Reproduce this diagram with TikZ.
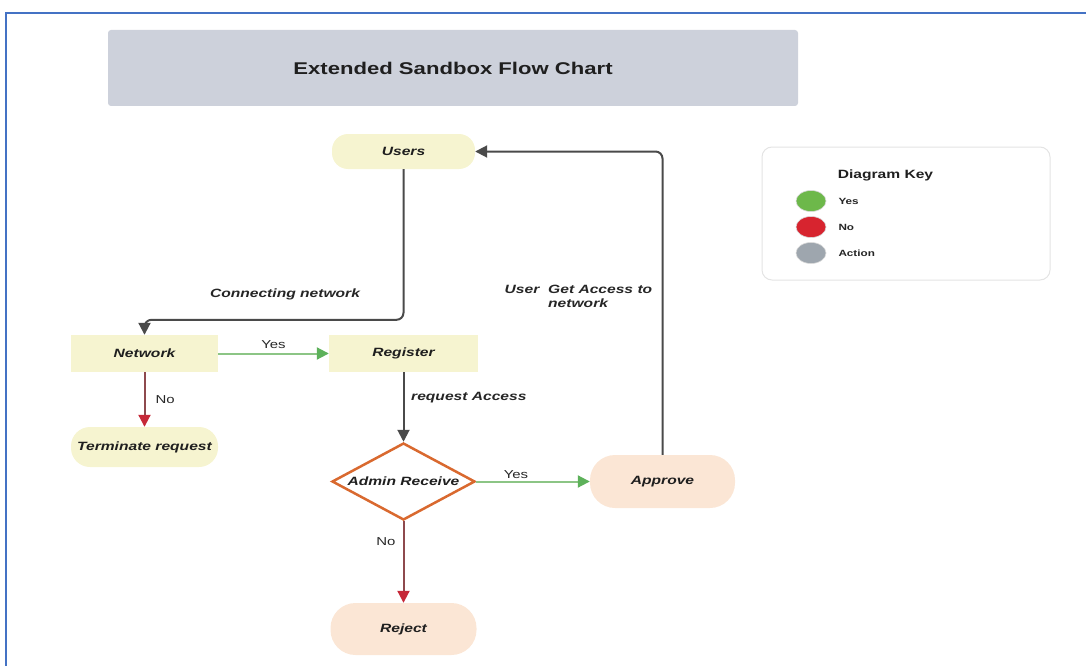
\documentclass[tikz,border=0pt]{standalone}
\usepackage{fontspec}
\setmainfont{Liberation Sans}[FakeStretch=1.3]
\usetikzlibrary{arrows.meta, shapes.geometric, positioning, calc}

\definecolor{frameblue}{HTML}{4472C4}
\definecolor{titlegray}{HTML}{CDD1DB}
\definecolor{paleyellow}{HTML}{F6F4D0}
\definecolor{peach}{HTML}{FBE6D5}
\definecolor{diamondorange}{HTML}{D9692F}
\definecolor{linegray}{HTML}{4A4A4A}
\definecolor{yesline}{HTML}{8CC585}
\definecolor{yeshead}{HTML}{5DB15A}
\definecolor{noline}{HTML}{8E4A4E}
\definecolor{nohead}{HTML}{C62838}
\definecolor{keygreen}{HTML}{6DB84A}
\definecolor{keyred}{HTML}{D7242F}
\definecolor{keygray}{HTML}{9EA6AE}
\definecolor{keyborder}{HTML}{E4E4E4}

\tikzset{
  chartfont/.style={font=\bfseries\itshape\fontsize{12}{14}\selectfont, text=black!88},
  box/.style={chartfont, fill=paleyellow, inner sep=0pt},
  pill/.style={box, rounded corners=16pt},
  decision/.style={chartfont, diamond, aspect=1.86, draw=diamondorange, line width=2.5pt, fill=white, inner sep=0pt},
  flowlabel/.style={chartfont, text=black!85, inner sep=0pt},
  answer/.style={font=\fontsize{11.5}{13}\selectfont, text=black!85, inner sep=2pt},
  flow/.style={draw=linegray, line width=2pt, -{Triangle[length=12pt, width=12pt]}},
  yesflow/.style={draw=yesline, line width=2pt, -{Triangle[length=12pt, width=12pt, color=yeshead]}},
  noflow/.style={draw=noline, line width=2pt, -{Triangle[length=12pt, width=12pt, color=nohead]}},
  keydot/.style={ellipse, minimum width=30pt, minimum height=21pt, inner sep=0pt, draw=black!15, line width=0.6pt},
  keytext/.style={font=\bfseries\fontsize{9}{11}\selectfont, text=black!85, inner sep=1pt}
}

\begin{document}
\begin{tikzpicture}[x=1pt, y=-1pt]
  \useasboundingbox (0,0) rectangle (1086,666);
  \draw[frameblue, line width=2pt] (6,666) -- (6,13) -- (1086,13);

  % title
  \node[fill=titlegray, rounded corners=3pt, minimum width=690pt, minimum height=76pt,
        font=\bfseries\fontsize{17}{20}\selectfont, text=black!88] (title) at (453,68) {Extended Sandbox Flow Chart};

  % flow chart nodes
  \node[pill, minimum width=143pt, minimum height=35pt] (users) at (403.5,151.5) {Users};
  \node[box, minimum width=147pt, minimum height=37pt] (network) at (144.5,353.5) {Network};
  \node[box, minimum width=149pt, minimum height=37pt] (register) at (403.5,353.5) {Register};
  \node[pill, minimum width=147pt, minimum height=40pt, rounded corners=19pt] (terminate) at (144.5,447) {Terminate request};
  \node[decision, minimum width=143pt, minimum height=77pt] (admin) at (403.5,481.5) {Admin Receive};
  \node[pill, fill=peach, minimum width=145pt, minimum height=53pt, rounded corners=25pt] (approve) at (662.5,481.5) {Approve};
  \node[pill, fill=peach, minimum width=146pt, minimum height=52pt, rounded corners=25pt] (reject) at (403.5,629) {Reject};

  % connectors
  \draw[flow, rounded corners=7pt] (users.south) |- ($(network.north)+(0,-15)$) -- (network.north);
  \draw[yesflow] (network.east) -- node[answer, above=2pt, midway] (yesreg) {Yes} (register.west);
  \draw[noflow] (network.south) -- node[answer, right=8pt, midway] (noterm) {No} (terminate.north);
  \draw[flow] (register.south) -- (admin.north);
  \draw[yesflow] (admin.east) -- node[answer, above=0pt, pos=0.35] (yesapp) {Yes} (approve.west);
  \draw[noflow] (admin.south) -- node[answer, left=5pt, pos=0.25] (norej) {No} (reject.north);
  \draw[flow, rounded corners=7pt] (approve.north) |- (users.east);

  % connector texts
  \node[flowlabel] (connlab) at (285,294) {Connecting network};
  \node[flowlabel, anchor=west] (reqlab) at (411,398) {request Access};
  \node[flowlabel] (userlab) at (522,289) {User};
  \node[flowlabel, anchor=west, align=left] (accesslab) at (548,296) {Get Access to\\network};

  % diagram key
  \node[draw=keyborder, line width=1pt, fill=white, rounded corners=10pt,
        minimum width=288pt, minimum height=133pt] (key) at (906,213.5) {};
  \node[font=\bfseries\fontsize{12}{14}\selectfont, text=black!88] (keytitle) at (885.5,175) {Diagram Key};
  \node[keydot, fill=keygreen] (kyes) at (811,201) {};
  \node[keydot, fill=keyred] (kno) at (811,227) {};
  \node[keydot, fill=keygray] (kaction) at (811,253) {};
  \node[keytext, right=11pt of kyes] (kyeslab) {Yes};
  \node[keytext, right=11pt of kno] (knolab) {No};
  \node[keytext, right=11pt of kaction] (kactionlab) {Action};
\end{tikzpicture}
\end{document}
